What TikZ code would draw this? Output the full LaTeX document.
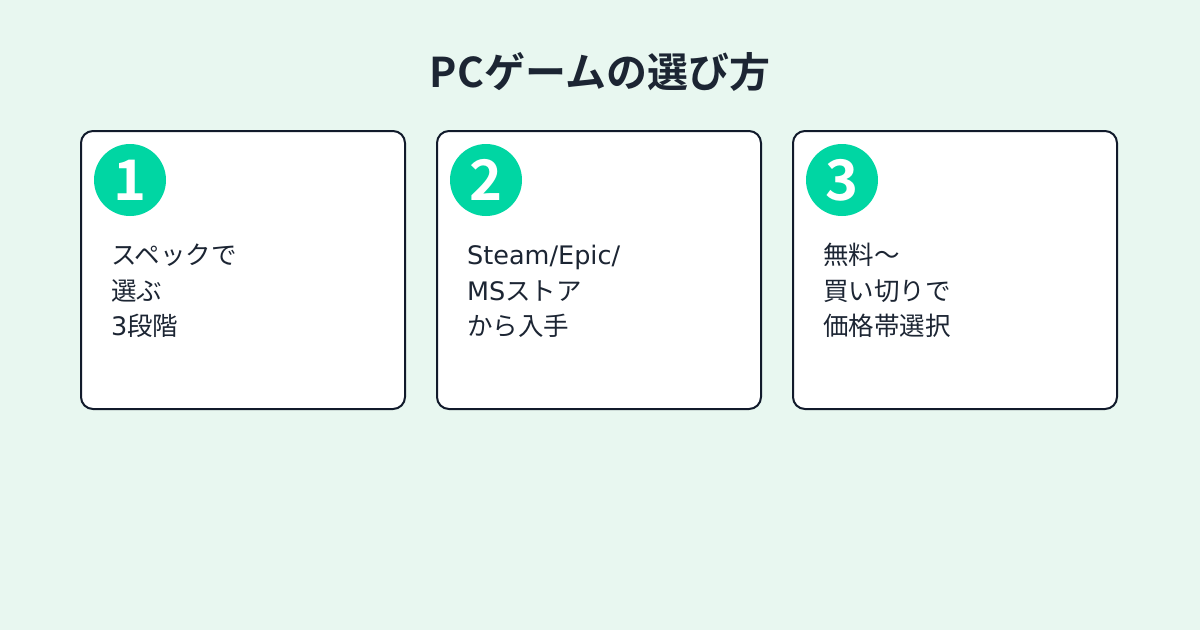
\documentclass[tikz,border=0pt]{standalone}
\usepackage{fontspec}
\newfontfamily\jp{Noto Sans CJK JP}
\newfontfamily\jpb{Noto Sans CJK JP Bold}
\newfontfamily\lat{DejaVu Sans}
\definecolor{bgc}{HTML}{E8F7F0}
\definecolor{accent}{HTML}{00D6A3}
\definecolor{ink}{HTML}{111A2B}
\definecolor{txt}{HTML}{1C2533}
\begin{document}
\begin{tikzpicture}[x=1pt,y=-1pt,
  card/.style={draw=ink,line width=2pt,fill=white,rounded corners=12pt},
  badge/.style={circle,fill=accent,minimum size=72pt,inner sep=0pt},
  badgenum/.style={text=white,font=\jpb\fontsize{56}{56}\selectfont,inner sep=0pt},
  line/.style={anchor=base west,inner sep=0pt,text=txt,font=\jp\fontsize{25.5}{35}\selectfont},
  title/.style={anchor=base,inner sep=0pt,text=txt,font=\jpb\fontsize{41}{48}\selectfont}]
\useasboundingbox (0,0) rectangle (1200,630);
\fill[bgc] (0,0) rectangle (1200,630);
\node[title] (t) at (600,87) {PCゲームの選び方};
\foreach \i/\x in {1/81, 2/437, 3/793}{
  \draw[card] (\x,131) rectangle ++(324,278);
  \node[badge] (b\i) at (\x+49,180) {};
  \node[badgenum] (n\i) at (b\i.center) {\i};
}
\node[line] (l11) at (111,264) {スペックで};
\node[line] (l12) at (111,300) {選ぶ};
\node[line] (l13) at (111,335) {{\lat 3}段階};
\node[line] (l21) at (467,264) {\lat Steam/Epic/};
\node[line] (l22) at (467,300) {{\lat MS}ストア};
\node[line] (l23) at (467,335) {から入手};
\node[line] (l31) at (823,264) {無料〜};
\node[line] (l32) at (823,300) {買い切りで};
\node[line] (l33) at (823,335) {価格帯選択};
\end{tikzpicture}
\end{document}
